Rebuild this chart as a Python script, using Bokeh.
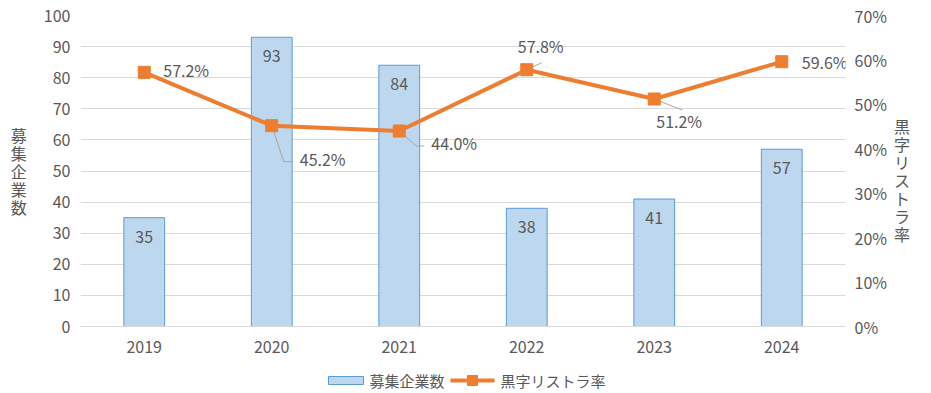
from bokeh.plotting import figure
from bokeh.layouts import column
from bokeh.models import (Range1d, LinearAxis, FixedTicker, SingleIntervalTicker,
                          NumeralTickFormatter, ColumnDataSource)
from bokeh.embed import file_html
from bokeh.resources import INLINE
from bokeh.core.properties import value

# ---- data ----
years = ["2019", "2020", "2021", "2022", "2023", "2024"]
companies = [35, 93, 84, 38, 41, 57]
rate_pct = [57.2, 45.2, 44.0, 57.8, 51.2, 59.6]
bar_series_name = "募集企業数"
rate_series_name = "黒字リストラ率"
rate_ticks = [k / 10 for k in range(8)]   # 0% .. 70%

# ---- layout / style ----
FONT = "Noto Sans CJK JP"
TXT = "#595959"
BAR_FILL, BAR_LINE, LINE_C = "#BDD7EE", "#5B9BD5", "#ED7D31"
W, H_MAIN, H_LEG = 931, 360, 33
FL, FR, FT, FB = 80, 86, 15, 34
fw, fh = W - FL - FR, H_MAIN - FT - FB
n = len(years)
px_x = fw / n          # pixels per x unit
px_r = fh / 0.7        # pixels per rate unit

# label offsets (screen px, y up) for rate labels
lab_dx = [19, 28, 32, -9, 2, 20]
lab_dy = [2, -33, -12, 24, -22, 0]
# leader lines (screen px offsets from marker), None = no leader
leaders = [None, [(0, 0), (12, -36), (21, -36)], [(0, 0), (17, -15), (25, -15)],
           [(0, 0), (15, 7)], [(0, 0), (28, -11)], None]

xs = list(range(n))
rates = [v / 100 for v in rate_pct]

src = ColumnDataSource(dict(
    x=xs, companies=companies, rate=rates,
    bar_label=[str(v) for v in companies],
    rate_label=[f"{v:.1f}%" for v in rate_pct],
    dx=lab_dx, dy_screen=[-v for v in lab_dy],
))

p = figure(width=W, height=H_MAIN, output_backend="svg", toolbar_location=None,
           x_range=Range1d(-0.5, n - 0.5), y_range=Range1d(0, 100),
           min_border_left=FL, min_border_right=FR, min_border_top=FT, min_border_bottom=FB)
p.extra_y_ranges = {"rate": Range1d(0, 0.7)}
p.outline_line_color = None
p.background_fill_color = "white"
p.border_fill_color = "white"

# axes
p.xaxis.ticker = FixedTicker(ticks=xs)
p.xaxis.major_label_overrides = {i: y for i, y in enumerate(years)}
p.xaxis.axis_line_color = "#D9D9D9"
p.xaxis.major_label_standoff = 14

p.yaxis.ticker = SingleIntervalTicker(interval=10, num_minor_ticks=0)
p.yaxis.axis_line_color = None
p.yaxis.major_label_standoff = 10
p.yaxis.axis_label = "\n".join(bar_series_name)
p.yaxis.axis_label_orientation = "horizontal"
p.yaxis.axis_label_standoff = 14

raxis = LinearAxis(y_range_name="rate", ticker=FixedTicker(ticks=rate_ticks),
                   formatter=NumeralTickFormatter(format="0%"))
raxis.axis_line_color = None
raxis.major_label_standoff = 9
raxis.axis_label = "\n" + "\n".join(rate_series_name)
raxis.axis_label_orientation = "horizontal"
raxis.axis_label_standoff = 4
p.add_layout(raxis, "right")

for ax in [p.xaxis[0], p.yaxis[0], raxis]:
    ax.major_tick_line_color = None
    ax.minor_tick_line_color = None
    ax.major_tick_out = 0
    ax.major_tick_in = 0
    ax.minor_tick_out = 0
    ax.minor_tick_in = 0
    ax.major_label_text_font = FONT
    ax.major_label_text_font_size = "16px"
    ax.major_label_text_color = TXT
    ax.axis_label_text_font = FONT
    ax.axis_label_text_font_size = "16px"
    ax.axis_label_text_font_style = "normal"
    ax.axis_label_text_color = TXT
    ax.axis_label_text_line_height = 0.75

p.xgrid.visible = False
p.ygrid.grid_line_color = "#D9D9D9"
p.ygrid.grid_line_width = 1

# bars
p.vbar(x="x", top="companies", width=0.32, bottom=0, source=src,
       fill_color=BAR_FILL, line_color=BAR_LINE, line_width=1)
p.text(x="x", y="companies", text="bar_label", source=src, y_offset=19,
       text_align="center", text_baseline="middle", text_color=TXT,
       text_font=value(FONT), text_font_size="16px")

# leader lines
lx, ly = [], []
for i, pts in enumerate(leaders):
    if pts is None:
        continue
    lx.append([xs[i] + a / px_x for a, b in pts])
    ly.append([rates[i] + b / px_r for a, b in pts])
p.multi_line(xs=lx, ys=ly, line_color="#A6A6A6", line_width=1, y_range_name="rate")

# rate line
p.line(x="x", y="rate", source=src, line_color=LINE_C, line_width=4, y_range_name="rate")
p.scatter(x="x", y="rate", source=src, marker="square", size=12,
          fill_color=LINE_C, line_color=LINE_C, y_range_name="rate")
p.text(x="x", y="rate", text="rate_label", source=src, x_offset="dx",
       y_offset="dy_screen", text_align="left", text_baseline="middle",
       text_color=TXT, text_font=value(FONT), text_font_size="16px",
       y_range_name="rate")

# ---- legend strip (pixel-space figure under the chart, frame aligned with main) ----
lg = figure(width=W, height=H_LEG, output_backend="svg", toolbar_location=None,
            x_range=Range1d(FL, W - FR), y_range=Range1d(0, H_LEG),
            x_axis_location=None, y_axis_location=None,
            min_border_left=FL, min_border_right=FR, min_border_top=0, min_border_bottom=0)
lg.outline_line_color = None
lg.xgrid.visible = False
lg.ygrid.visible = False
LY = 13
lg.quad(left=[328], right=[363], bottom=[LY - 4], top=[LY + 4],
        fill_color=BAR_FILL, line_color=BAR_LINE, line_width=1)
lg.text(x=[369], y=[LY], text=[bar_series_name], text_align="left",
        text_baseline="middle", text_color=TXT, text_font=value(FONT),
        text_font_size="15px")
lg.line(x=[450, 494], y=[LY, LY], line_color=LINE_C, line_width=4)
lg.scatter(x=[472], y=[LY], marker="square", size=10, fill_color=LINE_C,
           line_color=LINE_C)
lg.text(x=[500], y=[LY], text=[rate_series_name], text_align="left",
        text_baseline="middle", text_color=TXT, text_font=value(FONT),
        text_font_size="15px")

layout = column(p, lg, spacing=0)
open("out.html", "w").write(file_html(layout, INLINE))
